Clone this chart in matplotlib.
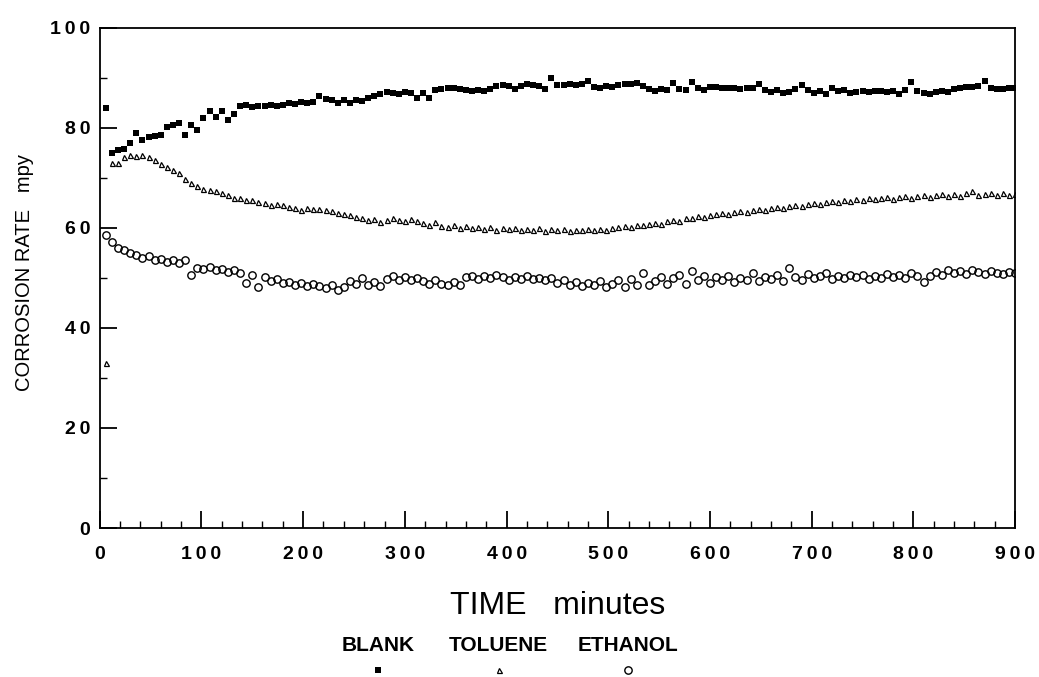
import numpy as np
import matplotlib
matplotlib.use("Agg")
import matplotlib.pyplot as plt
from matplotlib.ticker import MultipleLocator, FuncFormatter

plt.rcParams['font.family'] = ['Liberation Sans', 'DejaVu Sans']

# time of each reading, minutes
minutes = list(range(6, 901, 6))

# corrosion rate, mpy (one value per 6 minutes)
blank = [
    84.0, 75.0, 75.5, 75.8, 77.0, 78.9, 77.6, 78.2, 78.3, 78.5,
    80.2, 80.5, 81.0, 78.6, 80.6, 79.6, 81.9, 83.3, 82.1, 83.4,
    81.5, 82.7, 84.3, 84.5, 84.2, 84.4, 84.3, 84.5, 84.3, 84.6,
    85.0, 84.8, 85.1, 84.9, 85.2, 86.3, 85.8, 85.5, 84.9, 85.5,
    85.0, 85.6, 85.4, 86.0, 86.3, 86.8, 87.2, 87.0, 86.8, 87.2,
    87.0, 86.0, 87.0, 86.0, 87.6, 87.8, 88.0, 87.9, 87.7, 87.6,
    87.4, 87.5, 87.3, 87.8, 88.3, 88.6, 88.4, 87.8, 88.3, 88.8,
    88.6, 88.3, 87.8, 89.9, 88.6, 88.5, 88.7, 88.6, 88.8, 89.3,
    88.2, 88.0, 88.3, 88.1, 88.6, 88.8, 88.7, 88.9, 88.4, 87.7,
    87.4, 87.8, 87.5, 88.9, 87.8, 87.5, 89.2, 88.0, 87.5, 88.1,
    88.2, 88.0, 88.0, 87.9, 87.7, 88.0, 87.9, 88.8, 87.6, 87.2,
    87.5, 87.0, 87.1, 87.8, 88.5, 87.6, 86.9, 87.4, 86.8, 87.9,
    87.3, 87.5, 87.0, 87.2, 87.3, 87.2, 87.4, 87.3, 87.1, 87.4,
    86.8, 87.5, 89.1, 87.4, 87.0, 86.8, 87.2, 87.3, 87.1, 87.8,
    88.0, 88.1, 88.2, 88.3, 89.4, 88.0, 87.8, 87.7, 87.9, 88.0,
]
toluene = [
    33.0, 73.0, 72.9, 74.2, 74.5, 74.3, 74.6, 74.2, 73.6, 72.8,
    72.2, 71.6, 71.0, 69.8, 69.0, 68.3, 67.8, 67.6, 67.3, 66.9,
    66.6, 66.0, 65.9, 65.5, 65.6, 65.2, 64.9, 64.6, 64.7, 64.5,
    64.2, 63.9, 63.6, 64.0, 63.8, 63.7, 63.5, 63.3, 63.0, 62.8,
    62.5, 62.2, 62.0, 61.6, 61.8, 61.2, 61.5, 61.9, 61.6, 61.4,
    61.8, 61.3, 61.0, 60.6, 61.1, 60.4, 60.2, 60.5, 60.0, 60.3,
    59.9, 60.2, 59.8, 60.1, 59.6, 59.9, 59.7, 60.0, 59.5, 59.8,
    59.6, 59.9, 59.4, 59.7, 59.5, 59.8, 59.4, 59.6, 59.5, 59.7,
    59.5, 59.8, 59.6, 59.9, 60.1, 60.3, 60.2, 60.6, 60.5, 60.8,
    61.0, 60.8, 61.3, 61.5, 61.4, 61.9, 62.0, 62.3, 62.2, 62.6,
    62.8, 63.0, 62.7, 63.2, 63.4, 63.1, 63.6, 63.8, 63.5, 64.0,
    64.2, 63.9, 64.4, 64.6, 64.3, 64.8, 65.0, 64.7, 65.2, 65.4,
    65.1, 65.6, 65.3, 65.8, 65.5, 66.0, 65.7, 65.9, 66.2, 65.8,
    66.1, 66.4, 65.9, 66.3, 66.6, 66.2, 66.5, 66.8, 66.3, 66.7,
    66.4, 66.9, 67.3, 66.6, 66.8, 67.0, 66.5, 66.9, 66.6, 66.8,
]
ethanol = [
    58.5, 57.2, 56.0, 55.5, 55.0, 54.6, 54.0, 54.3, 53.5, 53.8,
    53.2, 53.6, 53.0, 53.5, 50.6, 52.0, 51.8, 52.1, 51.5, 51.8,
    51.2, 51.5, 50.9, 49.0, 50.6, 48.2, 50.2, 49.3, 49.8, 48.9,
    49.2, 48.6, 49.0, 48.3, 48.8, 48.4, 48.0, 48.6, 47.6, 48.2,
    49.4, 48.7, 50.0, 48.5, 49.2, 48.3, 49.7, 50.3, 49.6, 50.2,
    49.5, 50.0, 49.3, 48.8, 49.6, 48.7, 48.5, 49.2, 48.6, 50.1,
    50.4, 49.8, 50.3, 49.9, 50.5, 50.1, 49.6, 50.2, 49.8, 50.3,
    49.7, 50.0, 49.6, 49.9, 48.9, 49.5, 48.6, 49.2, 48.4, 49.0,
    48.5, 49.3, 48.2, 48.8, 49.6, 48.1, 49.8, 48.6, 51.0, 48.5,
    49.4, 50.2, 48.8, 49.9, 50.6, 48.7, 51.3, 49.5, 50.4, 48.9,
    50.1, 49.6, 50.3, 49.2, 50.0, 49.5, 51.0, 49.3, 50.2, 49.7,
    50.5, 49.4, 52.0, 50.2, 49.6, 50.8, 49.9, 50.3, 51.0, 49.8,
    50.4, 49.9, 50.6, 50.1, 50.5, 49.8, 50.3, 50.0, 50.7, 50.2,
    50.6, 50.0, 50.9, 50.3, 49.2, 50.4, 51.2, 50.6, 51.5, 51.0,
    51.3, 50.8, 51.6, 51.1, 50.7, 51.4, 51.0, 50.8, 51.2, 50.9,
]
series_names = ['BLANK', 'TOLUENE', 'ETHANOL']


def spaced(s):
    # the old plotter letter-spaces its axis numbers
    return '\u2009'.join(s)


fig = plt.figure(figsize=(10.39, 6.77), dpi=100)
ax = fig.add_axes([0.096, 0.22, 0.881, 0.739])

styles = [
    dict(marker='s', ms=4.6, mfc='black', mec='black', mew=0),
    dict(marker='^', ms=3.6, mfc='none', mec='black', mew=0.9),
    dict(marker='o', ms=5.3, mfc='none', mec='black', mew=1.0),
]
for vals, st in zip([blank, toluene, ethanol], styles):
    ax.plot(minutes, vals, ls='none', **st)

ax.set_xlim(0, 900)
ax.set_ylim(0, 100)
ax.xaxis.set_major_locator(MultipleLocator(100))
ax.xaxis.set_minor_locator(MultipleLocator(20))
ax.yaxis.set_major_locator(MultipleLocator(20))
ax.yaxis.set_minor_locator(MultipleLocator(10))
fmt = FuncFormatter(lambda v, pos: spaced('%d' % v))
ax.xaxis.set_major_formatter(fmt)
ax.yaxis.set_major_formatter(fmt)
ax.tick_params(which='both', direction='in', top=False, right=False, color='black')
ax.tick_params(which='major', length=12, width=1.3, labelsize=14)
ax.tick_params(axis='x', which='major', pad=13)
ax.tick_params(axis='y', which='major', pad=7)
ax.tick_params(which='minor', length=5, width=1.0)
for lbl in ax.get_xticklabels() + ax.get_yticklabels():
    lbl.set_fontweight('bold')
for sp in ax.spines.values():
    sp.set_linewidth(1.3)

fig.text(0.024, 0.598, 'CORROSION RATE   mpy', rotation=90, ha='center', va='center',
         fontsize=14.5)
fig.text(0.537, 0.105, 'TIME   minutes', ha='center', va='center', fontsize=23)

# legend row under the x label
leg_x = [0.364, 0.480, 0.604]
for name, xx, st in zip(series_names, leg_x, styles):
    fig.text(xx, 0.047, name, ha='center', va='center', fontsize=15,
             fontweight='bold')
    ax.plot([xx], [0.010], ls='none', transform=fig.transFigure, clip_on=False, **st)

fig.savefig('out.png', dpi=100)
